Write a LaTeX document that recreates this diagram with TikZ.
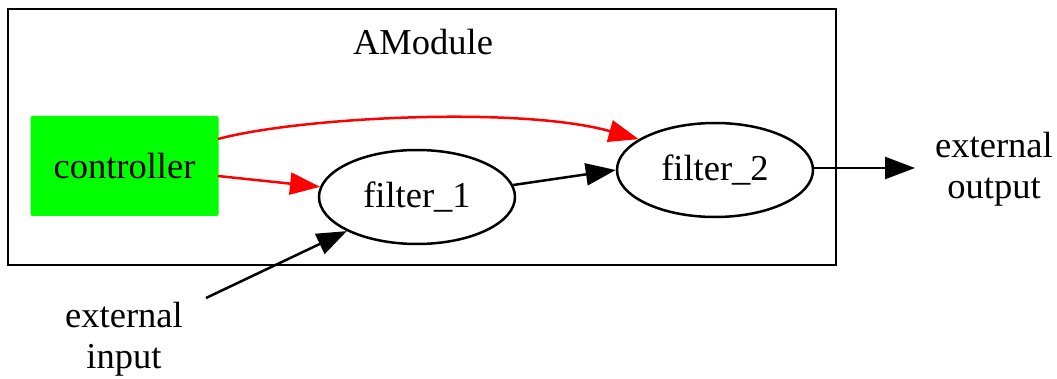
\documentclass[tikz,border=0pt]{standalone}
\usepackage{fontspec}
\setmainfont{Liberation Serif}
\usetikzlibrary{arrows.meta,shapes.geometric}
\begin{document}
\begin{tikzpicture}[x=1pt,y=-1pt,
  every node/.style={font=\fontsize{36.5}{41}\selectfont},
  proc/.style={draw,ellipse,line width=2.5pt,minimum width=196pt,minimum height=94pt,inner sep=0pt},
  edge/.style={line width=2.5pt,-{Triangle[length=30pt,width=22pt]}},
  ctl/.style={edge,red},
  txt/.style={align=center,inner sep=0pt}]
\useasboundingbox (0,0) rectangle (1057,379);
\draw[line width=2.4pt] (8,9) rectangle (836,265);
\node[txt] (title) at (423,42) {AModule};
\node[fill={rgb,255:red,0;green,255;blue,0},rounded corners=2pt,minimum width=188pt,minimum height=100pt,inner sep=0pt] (ctrl) at (124.5,166) {controller};
\node[proc] (f1) at (417,197) {filter\_1};
\node[proc] (f2) at (715,170) {filter\_2};
\node[txt] (out) at (994,169) {external\\output};
\node[txt] (in) at (124,339) {external\\input};
\coordinate (c1) at (218,176);
\coordinate (c2) at (218,139);
\coordinate (o1) at (813,168);
\coordinate (i1) at (206,298);
\draw[ctl] (c1) -- (f1.174);
\draw[ctl] (c2) .. controls (300,117) and (520,106) .. (f2.158);
\draw[edge] (f1.east) ++(-3,-12) -- (f2.west);
\draw[edge] (o1) -- (915,168);
\draw[edge] (i1) -- (f1.south west);
\end{tikzpicture}
\end{document}
